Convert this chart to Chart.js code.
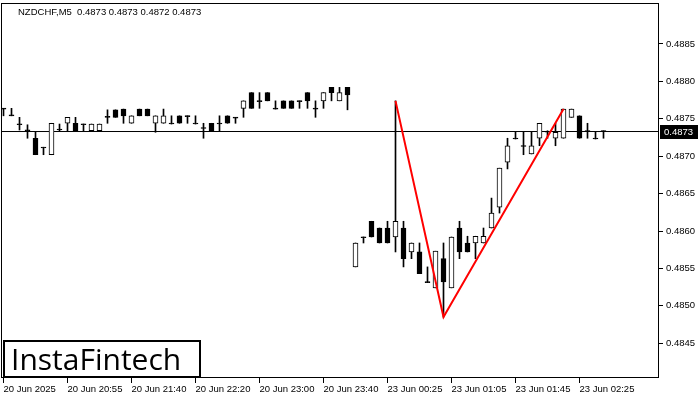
<!DOCTYPE html>
<html>
<head>
<meta charset="utf-8">
<script src="https://cdn.jsdelivr.net/npm/chart.js@4.4.1/dist/chart.umd.min.js"></script>
<style>
    html, body { margin: 0; padding: 0; background: #fff; }
    canvas { display: block; }
</style>
</head>
<body>
<canvas id="chart" width="700" height="400"></canvas>
<script>
// NZDCHF M5 candles
const symbolTitle = 'NZDCHF,M5  0.4873 0.4873 0.4872 0.4873';

const opens = [
    0.48764, 0.48755, 0.48743, 0.48735, 0.48724, 0.48712, 0.48702, 0.48736, 0.48744, 0.48744,
    0.48743, 0.48734, 0.48734, 0.48753, 0.48762, 0.48763, 0.48744, 0.48763, 0.48763, 0.48744,
    0.48744, 0.48744, 0.48754, 0.48754, 0.48744, 0.48738, 0.48744, 0.48744, 0.48754, 0.48752,
    0.48764, 0.48785, 0.48774, 0.48785, 0.48764, 0.48774, 0.48774, 0.48774, 0.48785, 0.48764,
    0.48774, 0.48792, 0.48774, 0.48792, 0.48552, 0.48592, 0.48613, 0.48604, 0.48604, 0.48592,
    0.48604, 0.48572, 0.48572, 0.48532, 0.48524, 0.48563, 0.48524, 0.48604, 0.48584, 0.48584,
    0.48584, 0.48604, 0.48632, 0.48692, 0.48724, 0.48714, 0.48703, 0.48724, 0.48733, 0.48724,
    0.48724, 0.48752, 0.48754, 0.48734, 0.48724, 0.48733
];
const highs = [
    0.48764, 0.48764, 0.48752, 0.48742, 0.48732, 0.48712, 0.48744, 0.48743, 0.48752, 0.48752,
    0.48743, 0.48743, 0.48743, 0.48762, 0.48762, 0.48763, 0.48754, 0.48763, 0.48763, 0.48754,
    0.48763, 0.48754, 0.48754, 0.48754, 0.48754, 0.48744, 0.48744, 0.48754, 0.48754, 0.48752,
    0.48774, 0.48785, 0.48785, 0.48785, 0.48774, 0.48774, 0.48774, 0.48774, 0.48785, 0.48774,
    0.48785, 0.48792, 0.48792, 0.48792, 0.48584, 0.48592, 0.48613, 0.48604, 0.48613, 0.48774,
    0.48613, 0.48584, 0.48584, 0.48552, 0.48573, 0.48584, 0.48592, 0.48613, 0.48593, 0.48593,
    0.48604, 0.48644, 0.48684, 0.48724, 0.48732, 0.48732, 0.48732, 0.48744, 0.48734, 0.48744,
    0.48763, 0.48763, 0.48754, 0.48744, 0.48732, 0.48734
];
const lows = [
    0.48754, 0.48754, 0.48735, 0.48724, 0.48702, 0.48702, 0.48702, 0.48734, 0.48734, 0.48734,
    0.48734, 0.48734, 0.48734, 0.48744, 0.48752, 0.48744, 0.48744, 0.48754, 0.48754, 0.48732,
    0.48744, 0.48743, 0.48744, 0.48744, 0.48743, 0.48724, 0.48734, 0.48734, 0.48744, 0.48744,
    0.48752, 0.48764, 0.48764, 0.48774, 0.48763, 0.48764, 0.48764, 0.48764, 0.48764, 0.48752,
    0.48764, 0.48774, 0.48774, 0.48762, 0.48552, 0.48584, 0.48592, 0.48584, 0.48584, 0.48572,
    0.48552, 0.48563, 0.48543, 0.48531, 0.48524, 0.48485, 0.48524, 0.48563, 0.48572, 0.48563,
    0.48584, 0.48604, 0.48624, 0.48683, 0.48723, 0.48702, 0.48703, 0.48714, 0.48724, 0.48714,
    0.48724, 0.48752, 0.48724, 0.48724, 0.48723, 0.48724
];
const closes = [
    0.48763, 0.48754, 0.48742, 0.48734, 0.48702, 0.48711, 0.48744, 0.48735, 0.48752, 0.48734,
    0.48742, 0.48743, 0.48743, 0.48752, 0.48752, 0.48754, 0.48754, 0.48754, 0.48754, 0.48754,
    0.48754, 0.48743, 0.48744, 0.48753, 0.48743, 0.48737, 0.48734, 0.48743, 0.48744, 0.48751,
    0.48774, 0.48764, 0.48773, 0.48774, 0.48763, 0.48764, 0.48764, 0.48773, 0.48774, 0.48763,
    0.48785, 0.48785, 0.48785, 0.48782, 0.48584, 0.48591, 0.48592, 0.48584, 0.48584, 0.48613,
    0.48563, 0.48584, 0.48543, 0.48531, 0.48573, 0.48532, 0.48592, 0.48572, 0.48572, 0.48593,
    0.48593, 0.48624, 0.48684, 0.48714, 0.48723, 0.48713, 0.48714, 0.48744, 0.48732, 0.48732,
    0.48763, 0.48763, 0.48724, 0.48733, 0.48723, 0.48733
];

const lastPrice = 0.48733;

// double bottom pattern: high, low, high (bar indices)
const patternBars = [49, 55, 70];

// time axis labels and the bars they sit on
const timeTickBars = [0, 8, 16, 24, 32, 40, 48, 56, 64, 72];
const timeTickLabels = [
    '20 Jun 2025', '20 Jun 20:55', '20 Jun 21:40', '20 Jun 22:20', '20 Jun 23:00',
    '20 Jun 23:40', '23 Jun 00:25', '23 Jun 01:05', '23 Jun 01:45', '23 Jun 02:25'
];
const priceTicks = [0.4845, 0.4850, 0.4855, 0.4860, 0.4865, 0.4870, 0.4875, 0.4880, 0.4885];

const FONT = 'Liberation Sans';
const xMin = -0.3125;
const xMax = 81.9375;

const bars = opens.map((o, i) => i);
const bodyColors = bars.map(i => closes[i] > opens[i] ? '#ffffff' : '#000000');

// Frame, title, last price label and logo drawn over the chart
const overlay = {
    id: 'overlay',
    afterDraw(chart) {
        const { ctx, chartArea: a, scales: { y } } = chart;
        ctx.save();
        ctx.strokeStyle = '#000';
        ctx.lineWidth = 1;
        ctx.strokeRect(a.left + 0.5, a.top + 0.5, a.right - a.left - 1, a.bottom - a.top - 1);

        ctx.fillStyle = '#000';
        ctx.font = '9.5px "' + FONT + '"';
        ctx.textBaseline = 'middle';
        ctx.fillText(symbolTitle, 18, 12);

        const py = Math.round(y.getPixelForValue(lastPrice));
        ctx.fillRect(a.right + 1, py - 7, 38, 14);
        ctx.fillStyle = '#fff';
        ctx.fillText(lastPrice.toFixed(4), a.right + 5, py);

        // logo box
        ctx.fillStyle = '#fff';
        ctx.fillRect(3, 340, 198, 38);
        ctx.lineWidth = 2;
        ctx.strokeStyle = '#000';
        ctx.strokeRect(4, 341, 196, 36);
        ctx.fillStyle = '#000';
        ctx.font = '500 30px "Open Sans"';
        ctx.textBaseline = 'alphabetic';
        ctx.fillText('InstaFintech', 11, 370);
        ctx.restore();
    }
};

new Chart(document.getElementById('chart').getContext('2d'), {
    type: 'bar',
    data: {
        datasets: [
            {
                type: 'line',
                label: 'Pattern',
                data: patternBars.map((b, k) => ({ x: b, y: k === 1 ? lows[b] : highs[b] })),
                borderColor: '#ff0000',
                borderWidth: 2,
                pointRadius: 0,
                tension: 0,
                order: 0
            },
            {
                label: 'Body',
                data: bars.map(i => ({ x: i, y: [opens[i], closes[i]] })),
                backgroundColor: bodyColors,
                borderColor: '#000',
                borderWidth: 1,
                borderSkipped: false,
                barThickness: 5,
                minBarLength: 1,
                grouped: false,
                order: 1
            },
            {
                label: 'Wick',
                data: bars.map(i => ({ x: i, y: [lows[i], highs[i]] })),
                backgroundColor: '#000',
                borderWidth: 0,
                barThickness: 1,
                minBarLength: 1,
                grouped: false,
                order: 2
            },
            {
                type: 'line',
                label: 'Last',
                data: [{ x: xMin, y: lastPrice }, { x: xMax, y: lastPrice }],
                borderColor: '#000',
                borderWidth: 1,
                pointRadius: 0,
                order: 3
            }
        ]
    },
    options: {
        responsive: false,
        animation: false,
        devicePixelRatio: 1,
        layout: { padding: { left: 1, top: 3, right: 0, bottom: 0 } },
        plugins: {
            legend: { display: false },
            tooltip: { enabled: false }
        },
        scales: {
            x: {
                type: 'linear',
                min: xMin,
                max: xMax,
                offset: false,
                afterBuildTicks: (scale) => {
                    scale.ticks = timeTickBars.map(v => ({ value: v }));
                },
                afterFit: (scale) => {
                    scale.height = 22;
                    scale.paddingLeft = 0;
                    scale.paddingRight = 0;
                },
                border: { display: false },
                grid: { drawOnChartArea: false, offset: false, tickLength: 5, color: '#000' },
                ticks: {
                    autoSkip: false,
                    maxRotation: 0,
                    align: 'start',
                    padding: 1,
                    color: '#000',
                    font: { family: FONT, size: 9.5 },
                    callback: (value, index) => timeTickLabels[index]
                }
            },
            y: {
                type: 'linear',
                position: 'right',
                min: 0.484035,
                max: 0.489048,
                afterBuildTicks: (scale) => {
                    scale.ticks = priceTicks.map(v => ({ value: v }));
                },
                afterFit: (scale) => {
                    scale.width = 41;
                    scale.paddingTop = 0;
                    scale.paddingBottom = 0;
                },
                border: { display: false },
                grid: { drawOnChartArea: false, tickLength: 4, color: '#000' },
                ticks: {
                    padding: 3,
                    color: '#000',
                    font: { family: FONT, size: 9.5 },
                    callback: (value) => value.toFixed(4)
                }
            }
        }
    },
    plugins: [overlay]
});
</script>
</body>
</html>
